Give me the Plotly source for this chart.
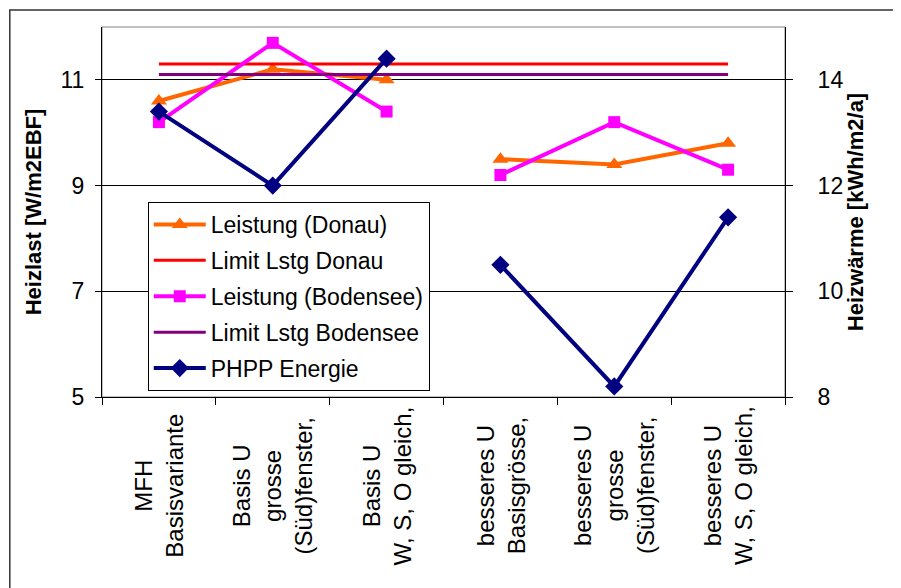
import plotly.graph_objects as go

# Kategorien (x-Achse) und Werte
categories = [
    "MFH<br>Basisvariante",
    "Basis U<br>grosse<br>(Süd)fenster,",
    "Basis U<br>W, S, O gleich,",
    "besseres U<br>Basisgrösse,",
    "besseres U<br>grosse<br>(Süd)fenster,",
    "besseres U<br>W, S, O gleich,",
]
leistung_donau = [10.6, 11.2, 11.0, 9.5, 9.4, 9.8]
limit_donau = [11.3, 11.3, 11.3, 11.3, 11.3, 11.3]
leistung_bodensee = [10.2, 11.7, 10.4, 9.2, 10.2, 9.3]
limit_bodensee = [11.1, 11.1, 11.1, 11.1, 11.1, 11.1]
phpp_energie = [13.4, 12.0, 14.4, 10.5, 8.2, 11.4]  # rechte Achse

left_ticks = [5, 7, 9, 11]
right_ticks = [8, 10, 12, 14]

FONT = "Liberation Sans, Arial, sans-serif"
FS = 23
idx = list(range(len(categories)))
groups = [idx[:3], idx[3:]]  # Linien sind zwischen den beiden Gruppen unterbrochen


def split_trace(fig, name, vals, color, symbol, msize, yaxis="y"):
    for gi, g in enumerate(groups):
        fig.add_trace(go.Scatter(
            x=g, y=[vals[i] for i in g], mode="lines+markers", name=name,
            legendgroup=name, showlegend=(gi == 0), yaxis=yaxis,
            line=dict(color=color, width=4),
            marker=dict(symbol=symbol, size=msize, color=color),
        ))


def limit_trace(fig, name, vals, color):
    fig.add_trace(go.Scatter(
        x=idx, y=vals, mode="lines", name=name, legendgroup=name,
        line=dict(color=color, width=3),
    ))


fig = go.Figure()
split_trace(fig, "Leistung (Donau)", leistung_donau, "#FF6600", "triangle-up", 14)
limit_trace(fig, "Limit Lstg Donau", limit_donau, "#FF0000")
split_trace(fig, "Leistung (Bodensee)", leistung_bodensee, "#FF00FF", "square", 12)
limit_trace(fig, "Limit Lstg Bodensee", limit_bodensee, "#800080")
split_trace(fig, "PHPP Energie", phpp_energie, "#000080", "diamond", 14, yaxis="y2")

# Kategorienbeschriftung, gedreht und zentriert
for i, lab in zip(idx, categories):
    fig.add_annotation(
        x=i, xref="x", y=-0.24, yref="paper", text=lab, textangle=-90,
        showarrow=False, align="center", xanchor="center", yanchor="middle",
        font=dict(family=FONT, size=24, color="black"),
    )

# Rahmen des Diagrammbereichs und der Zeichnungsfläche
fig.add_shape(type="rect", xref="paper", yref="paper", x0=0, x1=1, y0=0, y1=1,
              line=dict(color="#808080", width=1), layer="below")
fig.add_shape(type="rect", xref="paper", yref="paper", x0=-0.135, x1=1.5,
              y0=-1.0, y1=1.046, line=dict(color="#333333", width=1.5))

# Seite hat 8px Rand -> Ränder entsprechend verkleinert
fig.update_layout(
    width=901, height=588,
    margin=dict(l=94, r=124, t=19, b=199),
    paper_bgcolor="white", plot_bgcolor="white",
    font=dict(family=FONT, size=FS, color="black"),
    showlegend=True,
    legend=dict(
        x=0.067, y=0.527, xanchor="left", yanchor="top",
        bgcolor="white", bordercolor="black", borderwidth=1,
        font=dict(family=FONT, size=FS, color="black"),
        itemwidth=52, tracegroupgap=3, traceorder="grouped",
    ),
    xaxis=dict(
        range=[-0.5, len(categories) - 0.5],
        tickvals=[i - 0.5 for i in range(len(categories) + 1)],
        ticktext=[""] * (len(categories) + 1),
        ticks="outside", ticklen=7, tickcolor="black",
        showline=True, linecolor="black", linewidth=1,
        showgrid=False, zeroline=False,
    ),
    yaxis=dict(
        range=[5, 12], tickvals=left_ticks,
        ticks="outside", ticklen=6, tickcolor="black",
        showline=True, linecolor="black", linewidth=1,
        showgrid=True, gridcolor="black", gridwidth=1, zeroline=False,
        ticklabelstandoff=6,
        title=dict(text="<b>Heizlast [W/m2EBF]</b>", standoff=12,
                   font=dict(family=FONT, size=22)),
    ),
    yaxis2=dict(
        range=[8, 15], tickvals=right_ticks, overlaying="y", side="right",
        ticks="outside", ticklen=7, tickcolor="black",
        showline=True, linecolor="black", linewidth=1,
        showgrid=False, zeroline=False,
        ticklabelstandoff=20,
        title=dict(text="<b>Heizwärme [kWh/m2/a]</b>", standoff=0,
                   font=dict(family=FONT, size=22)),
    ),
)

fig.write_html("out.html")
